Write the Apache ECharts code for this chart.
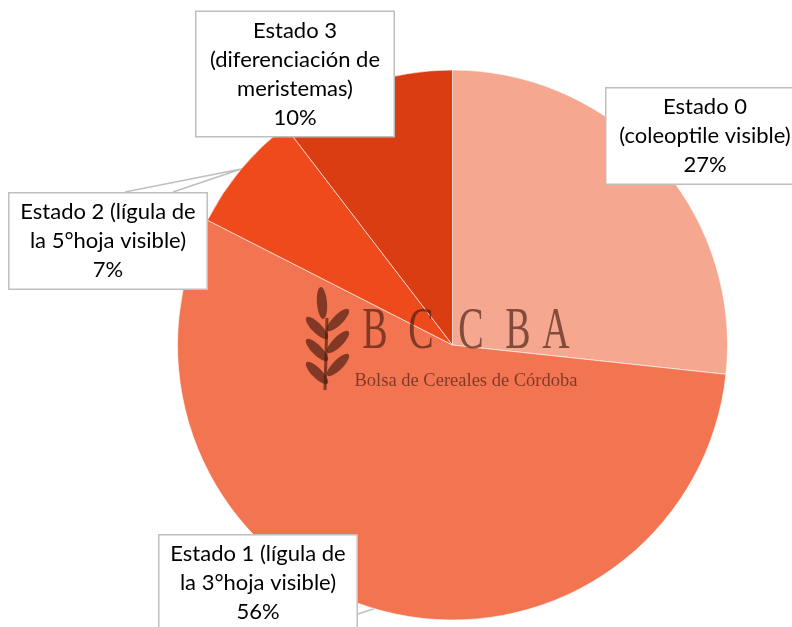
<!DOCTYPE html>
<html>
<head>
<meta charset="utf-8">
<script src="https://cdn.jsdelivr.net/npm/echarts@6/dist/echarts.min.js"></script>
<style>
  html, body { margin: 0; padding: 0; background: #fff; }
  #main { width: 792px; height: 627px; }
</style>
</head>
<body>
<div id="main"></div>
<script>
// datos del gráfico
var categories = ['Estado 0', 'Estado 1', 'Estado 2', 'Estado 3'];
var labelText = [
    'Estado 0\n(coleoptile visible)',
    'Estado 1 (lígula de\nla 3°hoja visible)',
    'Estado 2 (lígula de\nla 5°hoja visible)',
    'Estado 3\n(diferenciación de\nmeristemas)'
];
var values = [26.7, 55.8, 7.1, 10.4];
var colors = ['#F5A88F', '#F27451', '#EE4A1B', '#D93D11'];

// posición de las etiquetas (centro de cada caja)
var labelPos = [[705, 136], [258, 583], [108, 241], [295, 74]];
var showLine = [false, true, true, false];

var chart = echarts.init(document.getElementById('main'));

var seriesData = [];
for (var i = 0; i < categories.length; i++) {
    seriesData.push({
        name: categories[i],
        value: values[i],
        itemStyle: { color: colors[i] },
        labelLine: { show: showLine[i] }
    });
}

// marca de agua (logo BCCBA)
var wm = 'rgba(70, 28, 15, 0.66)';
var logo = [];
logo.push({ type: 'line', z: 100, shape: { x1: 327, y1: 318, x2: 325, y2: 390 }, style: { stroke: wm, lineWidth: 3 } });
logo.push({ type: 'ellipse', z: 100, x: 322, y: 303, rotation: 0.08, shape: { cx: 0, cy: 0, rx: 5, ry: 16 }, style: { fill: wm } });
var leafL = [328, 350, 373];
var leafR = [320, 342, 365];
for (var k = 0; k < 3; k++) {
    logo.push({ type: 'ellipse', z: 100, x: 317, y: leafL[k], rotation: Math.PI / 4, shape: { cx: 0, cy: 0, rx: 5, ry: 15 }, style: { fill: wm } });
    logo.push({ type: 'ellipse', z: 100, x: 338, y: leafR[k], rotation: -Math.PI / 4, shape: { cx: 0, cy: 0, rx: 5, ry: 15 }, style: { fill: wm } });
}
var letters = ['B', 'C', 'C', 'B', 'A'];
var letterX = [375, 421, 471, 518, 556];
for (var j = 0; j < letters.length; j++) {
    logo.push({
        type: 'text', z: 100, x: letterX[j], y: 333, scaleY: 1.55,
        style: {
            text: letters[j], fill: wm,
            font: '38px "Liberation Serif", serif',
            align: 'center', verticalAlign: 'middle'
        }
    });
}
logo.push({
    type: 'text', z: 100, x: 466, y: 381,
    style: {
        text: 'Bolsa de Cereales de Córdoba', fill: wm,
        font: '18.5px "Liberation Serif", serif',
        align: 'center', verticalAlign: 'middle'
    }
});

function tailPoints(idx, anchor, rect) {
    var pos = labelPos[idx];
    if (idx === 1) {
        var rx = pos[0] + rect.width / 2;
        return [[rx, pos[1] + 7], anchor, [rx, pos[1] + 31]];
    }
    var ty = pos[1] - rect.height / 2;
    return [[pos[0] + 17, ty], anchor, [pos[0] + 65, ty]];
}

var option = {
    animation: false,
    backgroundColor: '#fff',
    graphic: logo,
    series: [{
        type: 'pie',
        center: [452.5, 345],
        radius: 275,
        startAngle: 90,
        clockwise: true,
        avoidLabelOverlap: false,
        percentPrecision: 0,
        itemStyle: { borderColor: '#fff', borderWidth: 0.6 },
        label: {
            show: true,
            formatter: function (p) {
                return labelText[p.dataIndex] + '\n' + Math.round(p.percent) + '%';
            },
            fontFamily: 'Lato',
            fontSize: 22,
            lineHeight: 29,
            color: '#000',
            align: 'center',
            backgroundColor: '#fff',
            borderColor: '#BFBFBF',
            borderWidth: 1.5,
            padding: [4, 9],
            width: 179,
            overflow: 'none'
        },
        labelLine: {
            lineStyle: { color: '#BFBFBF', width: 1.5 },
            length: 10,
            length2: 10
        },
        labelLayout: function (params) {
            var idx = params.dataIndex;
            var pos = labelPos[idx];
            var res = { x: pos[0], y: pos[1], align: 'center', verticalAlign: 'middle' };
            if (showLine[idx] && params.labelLinePoints) {
                res.labelLinePoints = tailPoints(idx, params.labelLinePoints[0], params.labelRect);
            }
            return res;
        },
        data: seriesData
    }]
};

chart.setOption(option);
</script>
</body>
</html>
